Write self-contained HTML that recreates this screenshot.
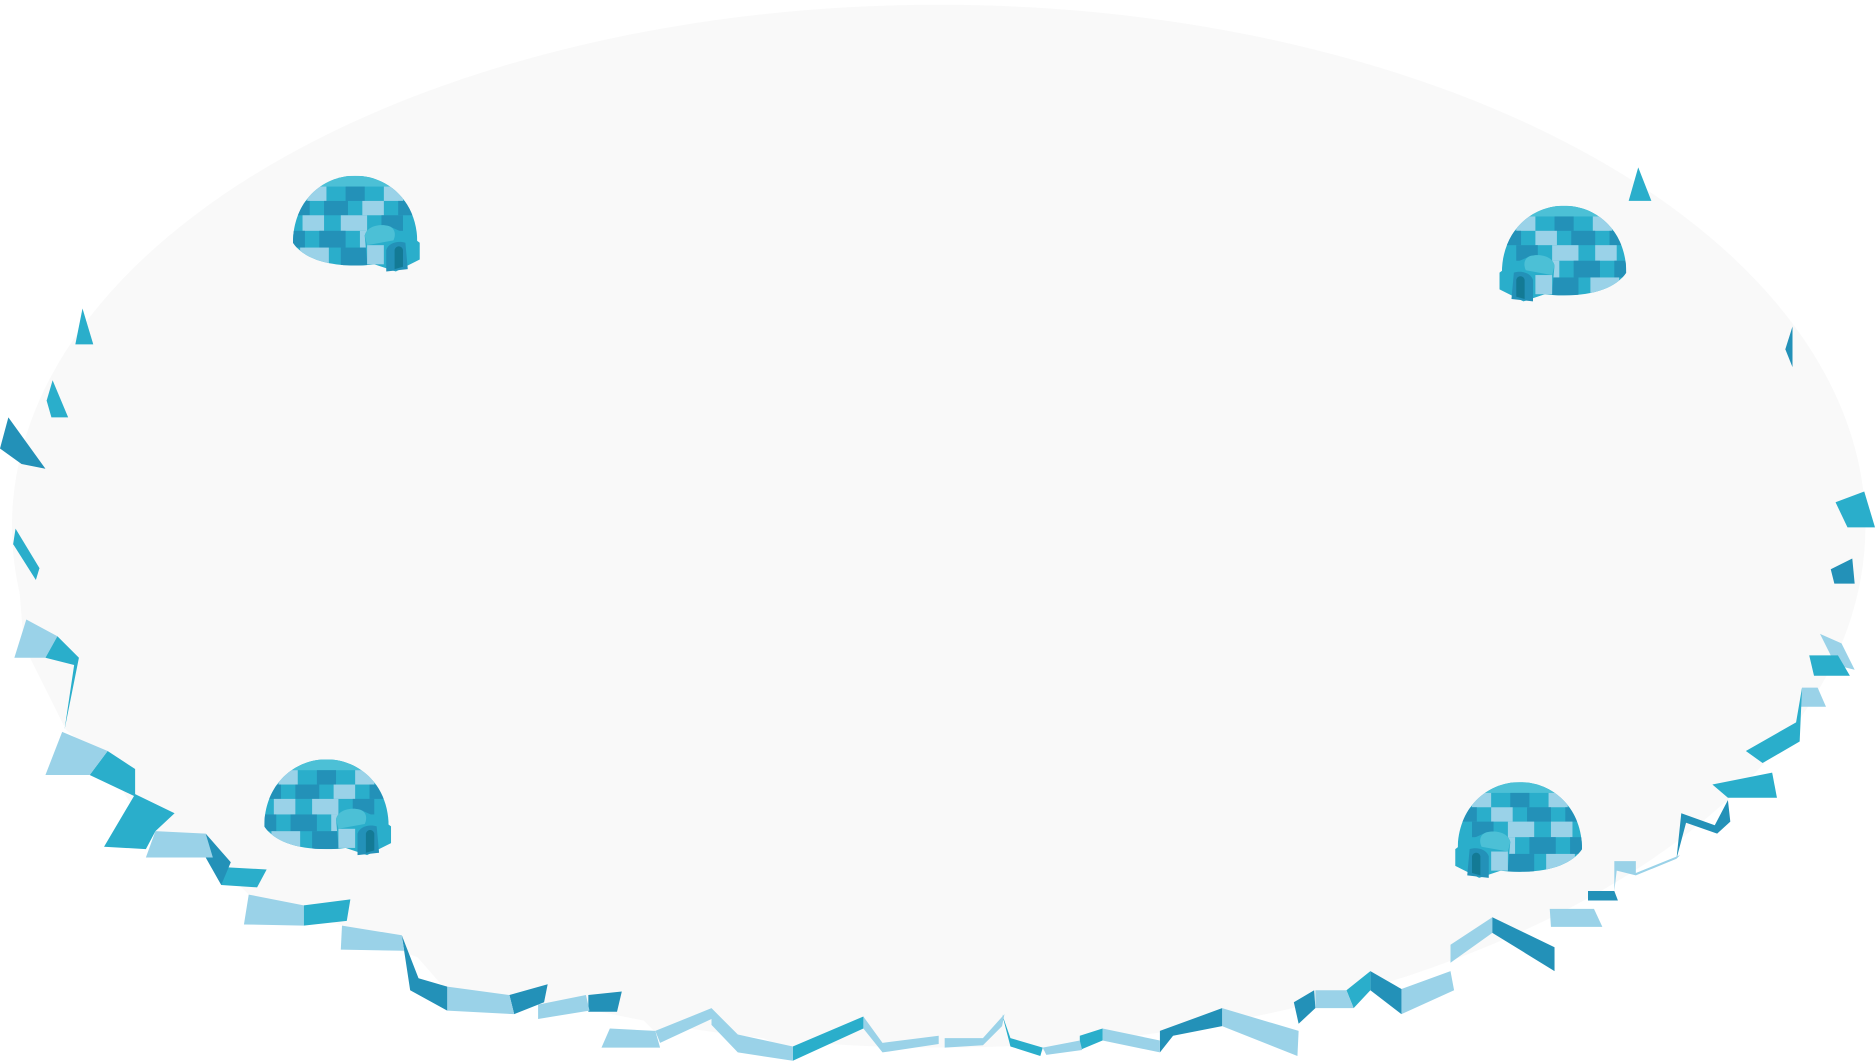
<!DOCTYPE html>
<html><head><meta charset="utf-8"><style>html,body{margin:0;padding:0;background:#fff;width:1875px;height:1062px;overflow:hidden}</style></head>
<body>
<svg width="1875" height="1062" viewBox="0 0 1568 888" preserveAspectRatio="none" xmlns="http://www.w3.org/2000/svg">
<defs>
<clipPath id="domeClip"><path d="M0,56 C0,22 24,0 52,0 C80,0 104,22 104,56 C96,68 78,75 52,75 C26,75 8,68 0,56Z"/></clipPath>
<g id="igloo">
 <g clip-path="url(#domeClip)">
  <rect x="0" y="0" width="104" height="80" fill="#2aaecb"/>
  <rect x="0" y="0" width="104" height="9" fill="#4cc0d6"/>
  <rect x="12" y="9" width="16" height="12" fill="#9ad2e8"/><rect x="44" y="9" width="16" height="12" fill="#2391b8"/><rect x="76" y="9" width="16" height="12" fill="#9ad2e8"/>
  <rect x="0" y="21" width="14" height="12" fill="#2391b8"/><rect x="26" y="21" width="20" height="12" fill="#2391b8"/><rect x="58" y="21" width="18" height="12" fill="#9ad2e8"/><rect x="88" y="21" width="16" height="12" fill="#2391b8"/>
  <rect x="8" y="33" width="18" height="13" fill="#9ad2e8"/><rect x="40" y="33" width="22" height="13" fill="#9ad2e8"/><rect x="74" y="33" width="18" height="13" fill="#2391b8"/>
  <rect x="0" y="46" width="10" height="14" fill="#2391b8"/><rect x="22" y="46" width="22" height="14" fill="#2391b8"/><rect x="56" y="46" width="20" height="14" fill="#9ad2e8"/>
  <rect x="6" y="60" width="24" height="16" fill="#9ad2e8"/><rect x="40" y="60" width="22" height="16" fill="#2391b8"/>
 </g>
 <path d="M60,50 C62,42 72,40 80,42 L98,50 L106,56 L106,70 L86,80 L62,72Z" fill="#2aaecb"/>
 <path d="M60,50 C62,42 72,40 80,42 C86,44 86,50 84,54 L62,58Z" fill="#4cc0d6"/>
 <path d="M78,80 L78,62 C80,56 88,54 94,56 L96,78Z" fill="#2391b8"/>
 <path d="M85,78 L85,62 C86,58 91,58 92,62 L92,76Z" fill="#137a95"/>
 <rect x="62" y="58" width="14" height="16" fill="#9ad2e8"/>
</g>
</defs>
<g fill="#f9f9f9">
<ellipse cx="785" cy="440" rx="775" ry="436"/>
<polygon points="12,440 20,540 55,610 90,640 120,690 180,720 210,750 290,775 340,790 375,830 450,840 520,835 550,865 595,848 660,878 722,855 790,870 840,855 870,880 920,862 980,862 1022,848 1100,835 1146,815 1213,795 1250,772 1300,765 1350,725 1405,690 1445,670 1460,630 1505,590 1520,545 1540,480 1555,420 785,300"/>
</g>
<g>
<polygon points="1362,168 1370,140 1381,168" fill="#2aaecb"/>
<polygon points="63,288 69,258 78,288" fill="#2aaecb"/>
<polygon points="39,335 44,318 57,349 43,349" fill="#2aaecb"/>
<polygon points="0,375 7,349 38,392 18,388" fill="#2391b8"/>
<polygon points="11,455 13,442 33,475 30,485" fill="#2aaecb"/>
<polygon points="1493,292 1499,273 1499,307" fill="#2391b8"/>
<polygon points="1535,420 1559,411 1568,441 1545,441" fill="#2aaecb"/>
<polygon points="1531,476 1549,467 1551,488 1534,488" fill="#2391b8"/>
<polygon points="1522,530 1540,538 1551,560 1535,556" fill="#9ad2e8"/>
<polygon points="1513,548 1537,548 1547,565 1517,565" fill="#2aaecb"/>
<polygon points="1507,575 1520,575 1527,591 1505,591" fill="#9ad2e8"/>
<polygon points="1460,628 1502,604 1507,575 1505,620 1474,638" fill="#2aaecb"/>
<polygon points="1432,656 1482,646 1486,667 1445,667" fill="#2aaecb"/>
<polygon points="1406,680 1434,690 1445,669 1447,687 1436,697 1410,688 1402,718" fill="#2391b8"/>
<polygon points="1350,720 1368,720 1368,730 1405,715 1402,718 1368,732 1352,728 1350,745" fill="#9ad2e8"/>
<polygon points="1328,745 1350,745 1353,753 1328,753" fill="#2391b8"/>
<polygon points="1296,760 1333,760 1340,775 1297,775" fill="#9ad2e8"/>
<polygon points="1213,790 1248,767 1248,780 1213,805" fill="#9ad2e8"/>
<polygon points="1248,767 1300,792 1300,812 1248,780" fill="#2391b8"/>
<polygon points="1146,812 1172,827 1172,848 1146,828" fill="#2391b8"/>
<polygon points="1172,827 1213,812 1216,828 1172,848" fill="#9ad2e8"/>
<polygon points="1146,812 1146,828 1132,843 1126,828" fill="#2aaecb"/>
<polygon points="1100,828 1126,828 1132,843 1100,843" fill="#9ad2e8"/>
<polygon points="1082,838 1099,828 1100,843 1086,856" fill="#2391b8"/>
<polygon points="1022,843 1086,862 1085,883 1022,858" fill="#9ad2e8"/>
<polygon points="970,862 1022,843 1022,858 981,866 970,880" fill="#2391b8"/>
<polygon points="922,860 970,870 970,880 922,870" fill="#9ad2e8"/>
<polygon points="903,866 922,860 922,870 903,878" fill="#2aaecb"/>
<polygon points="872,876 903,870 905,878 875,882" fill="#9ad2e8"/>
<polygon points="838,848 845,868 872,876 870,883 845,875" fill="#2aaecb"/>
<polygon points="790,868 822,868 840,848 838,858 822,874 790,876" fill="#9ad2e8"/>
<polygon points="722,850 738,872 785,866 785,873 738,880 722,860" fill="#9ad2e8"/>
<polygon points="663,875 722,850 722,860 663,887" fill="#2aaecb"/>
<polygon points="595,843 617,865 663,875 663,887 617,880 595,857" fill="#9ad2e8"/>
<polygon points="548,862 595,843 595,852 552,872" fill="#9ad2e8"/>
<polygon points="510,860 548,862 552,876 503,876" fill="#9ad2e8"/>
<polygon points="492,832 520,829 516,846 492,846" fill="#2391b8"/>
<polygon points="450,840 490,832 493,845 450,852" fill="#9ad2e8"/>
<polygon points="426,832 458,823 455,838 430,848" fill="#2391b8"/>
<polygon points="374,825 426,832 430,848 374,845" fill="#9ad2e8"/>
<polygon points="336,782 350,818 374,825 374,845 343,828" fill="#2391b8"/>
<polygon points="286,774 336,782 338,795 285,794" fill="#9ad2e8"/>
<polygon points="254,757 293,752 290,770 254,774" fill="#2aaecb"/>
<polygon points="208,748 254,757 254,774 204,773" fill="#9ad2e8"/>
<polygon points="185,725 223,727 215,742 185,740" fill="#2aaecb"/>
<polygon points="172,697 193,721 185,740 172,717" fill="#2391b8"/>
<polygon points="130,695 172,697 178,717 122,717" fill="#9ad2e8"/>
<polygon points="87,708 113,664 146,680 130,695 122,710" fill="#2aaecb"/>
<polygon points="75,648 90,628 113,643 113,666" fill="#2aaecb"/>
<polygon points="38,648 52,612 90,628 75,648" fill="#9ad2e8"/>
<polygon points="12,550 22,518 48,532 38,550" fill="#9ad2e8"/>
<polygon points="38,550 48,532 66,550 54,610 62,556" fill="#2aaecb"/>
</g>
<use href="#igloo" transform="translate(245,147)"/>
<use href="#igloo" transform="translate(1360,172) scale(-1,1)"/>
<use href="#igloo" transform="translate(221,635)"/>
<use href="#igloo" transform="translate(1323,654) scale(-1,1)"/>
</svg>
</body></html>
